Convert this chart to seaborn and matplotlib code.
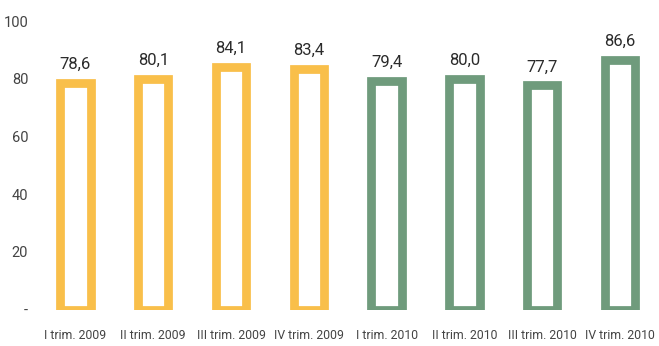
import matplotlib
matplotlib.use("Agg")
import matplotlib.pyplot as plt
import seaborn as sns
import pandas as pd

quarters = ["I trim. 2009", "II trim. 2009", "III trim. 2009", "IV trim. 2009",
            "I trim. 2010", "II trim. 2010", "III trim. 2010", "IV trim. 2010"]
values = [78.6, 80.1, 84.1, 83.4, 79.4, 80.0, 77.7, 86.6]
years = ["2009", "2009", "2009", "2009", "2010", "2010", "2010", "2010"]
year_colors = {"2009": "#F9BF4A", "2010": "#6F9B7C"}
y_ticks = [0, 20, 40, 60, 80, 100]
y_tick_labels = ["-", "20", "40", "60", "80", "100"]

sns.set_theme(style="white")
plt.rcParams["font.family"] = ["Roboto", "DejaVu Sans"]

df = pd.DataFrame({"quarter": quarters, "value": values, "year": years})

fig = plt.figure(figsize=(6.59, 3.46), dpi=100)
ax = fig.add_axes([0.0554, 0.105, 0.9446, 0.834])

sns.barplot(data=df, x="quarter", y="value", hue="year", palette=year_colors,
            fill=False, linewidth=6.3, width=0.39, dodge=False, legend=False, ax=ax)

for i, v in enumerate(values):
    ax.annotate(f"{v:.1f}".replace(".", ","), xy=(i, v), xytext=(0, 8),
                textcoords="offset points", ha="center", va="bottom",
                fontsize=12, color="#2b2b2b")

ax.set_xlim(-0.5, 7.5)
ax.set_ylim(0, 100)
ax.set_yticks(y_ticks)
ax.set_yticklabels(y_tick_labels, fontsize=10.5, color="#444444")
ax.tick_params(axis="x", labelsize=8.8, labelcolor="#444444", pad=14, length=0)
ax.tick_params(axis="y", length=0, pad=6)
ax.set_xlabel("")
ax.set_ylabel("")
for s in ax.spines.values():
    s.set_visible(False)

fig.savefig("out.png", dpi=100)
